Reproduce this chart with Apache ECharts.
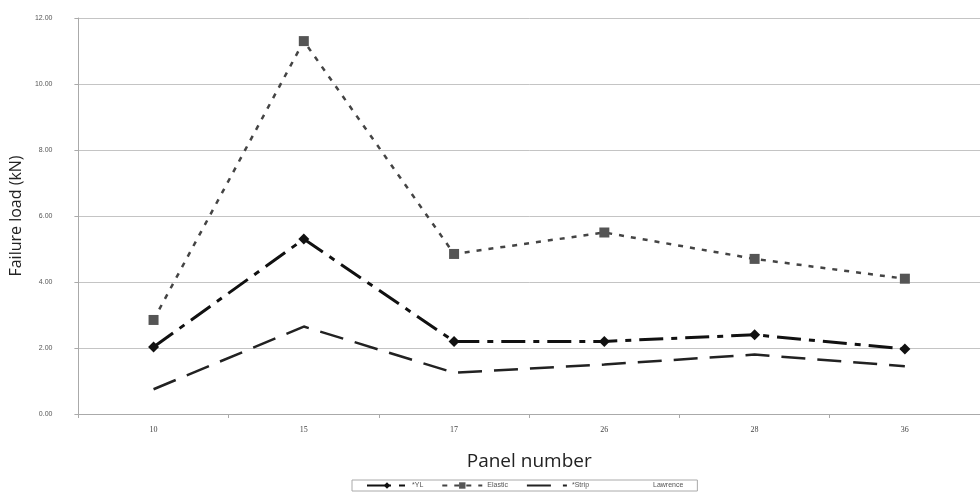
<!DOCTYPE html>
<html><head><meta charset="utf-8">
<script src="https://cdn.jsdelivr.net/npm/echarts@6/dist/echarts.min.js"></script>
<style>html,body{margin:0;padding:0;background:#fff}#c{width:980px;height:495px}</style>
</head><body><div id="c"></div>
<script>
const categories = ['10', '15', '17', '26', '28', '36'];
const yl = [2.03, 5.3, 2.2, 2.2, 2.4, 1.97];
const elastic = [2.85, 11.3, 4.85, 5.5, 4.7, 4.1];
const strip = [0.75, 2.65, 1.25, 1.5, 1.8, 1.45];
const lawrence = ['-', '-', '-', '-', '-', '-'];
const yTicks = [0, 2, 4, 6, 8, 10, 12];

const chart = echarts.init(document.getElementById('c'));
chart.setOption({
  backgroundColor: '#fff',
  animation: false,
  grid: { left: 75, top: 18, width: 922, height: 396, containLabel: false },
  legend: {
    bottom: 4, left: 352,
    width: 356,
    itemGap: 18,
    itemWidth: 40, itemHeight: 8,
    padding: [2, 14, 2, 14],
    borderColor: '#aaa', borderWidth: 1,
    textStyle: { fontSize: 7, color: '#555', fontFamily: 'Liberation Sans' },
    data: [
      { name: '*YL' },
      { name: 'Elastic' },
      { name: '*Strip', itemStyle: { opacity: 0 } },
      { name: 'Lawrence' }
    ]
  },
  xAxis: {
    type: 'category', data: categories,
    name: 'Panel number', nameLocation: 'middle', nameGap: 38,
    nameTextStyle: { fontSize: 19, color: '#222', fontFamily: 'Open Sans' },
    axisLine: { lineStyle: { color: '#aaa' } },
    axisTick: { show: true, lineStyle: { color: '#aaa' }, length: 4 },
    axisLabel: { fontSize: 8, color: '#444', margin: 12, fontFamily: 'Liberation Serif' }
  },
  yAxis: {
    type: 'value', min: 0, max: 12, interval: 2,
    name: 'Failure load (kN)', nameLocation: 'middle', nameGap: 47,
    nameTextStyle: { fontSize: 16, color: '#222', fontFamily: 'Open Sans' },
    axisLine: { show: true, lineStyle: { color: '#aaa' } },
    axisTick: { show: true, length: 4, lineStyle: { color: '#aaa' } },
    splitLine: { lineStyle: { color: '#c4c4c4', width: 1 } },
    axisLabel: { fontSize: 7, color: '#555', margin: 26, fontFamily: 'Liberation Sans',
      formatter: v => yTicks.includes(v) ? v.toFixed(2) : '' }
  },
  series: [
    { name: '*YL', type: 'line', data: yl, symbol: 'diamond', symbolSize: 11,
      itemStyle: { color: '#111' },
      lineStyle: { color: '#111', width: 3, type: [24, 8, 6, 8] } },
    { name: 'Elastic', type: 'line', data: elastic, symbol: 'rect', symbolSize: 10,
      itemStyle: { color: '#555' },
      lineStyle: { color: '#444', width: 2.5, type: [5, 7] } },
    { name: '*Strip', type: 'line', data: strip, symbol: 'none',
      itemStyle: { color: '#222' },
      lineStyle: { color: '#222', width: 2.5, type: [24, 12] } },
    { name: 'Lawrence', type: 'line', data: lawrence, symbol: 'none',
      itemStyle: { color: 'rgba(0,0,0,0)' },
      lineStyle: { color: 'rgba(0,0,0,0)', width: 1 } }
  ]
});
</script></body></html>
